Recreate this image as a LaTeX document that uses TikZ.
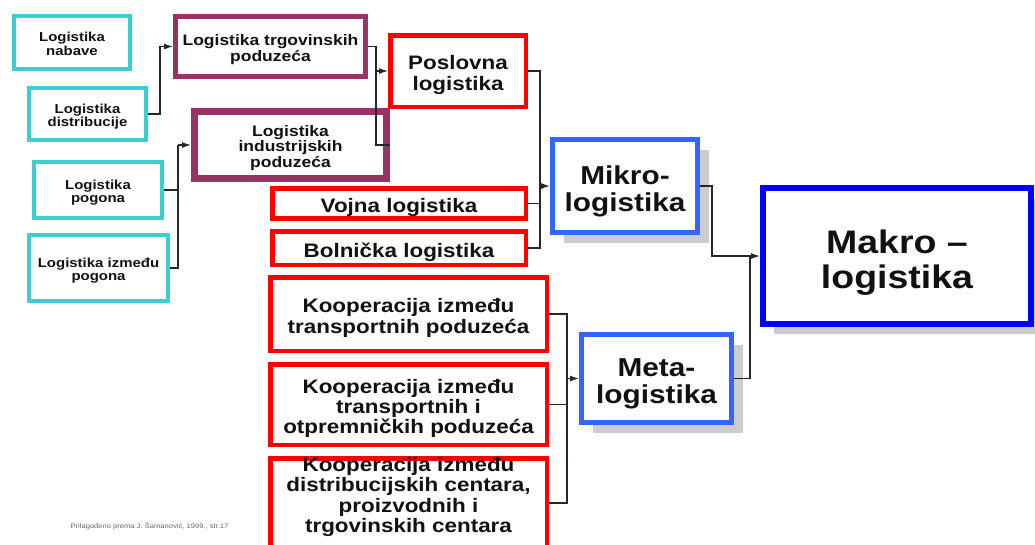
\documentclass[tikz,border=0pt]{standalone}
\usepackage{fontspec}
\setmainfont{Liberation Sans}
\usetikzlibrary{arrows.meta,shadows}
\definecolor{cy}{HTML}{3CCFCF}
\definecolor{pu}{HTML}{993366}
\definecolor{rd}{HTML}{FF0000}
\definecolor{bl}{HTML}{3366FF}
\definecolor{db}{HTML}{0000FF}
\definecolor{txt}{HTML}{111111}
\definecolor{shd}{HTML}{CCCCCC}
\newcommand\bt[3]{\scalebox{1.15}[1]{\fontsize{#1}{#2}\selectfont\bfseries\raisebox{0pt}[\dimexpr\height+0.5em\relax][\depth]{\begin{tabular}{@{}c@{}}#3\end{tabular}}}}
\begin{document}
\begin{tikzpicture}[x=1pt,y=-1pt,
  box/.style={draw, fill=white, rectangle, inner sep=0pt, text=txt},
  cyanbox/.style={box, draw=cy, line width=4pt},
  purbox/.style={box, draw=pu, line width=5pt},
  redbox/.style={box, draw=rd, line width=4.5pt},
  bluebox/.style={box, draw=bl, line width=5pt,
     drop shadow={shadow xshift=11pt, shadow yshift=-10pt, fill=shd, opacity=1}},
  conn/.style={draw=black!85, line width=1.2pt},
  arr/.style={conn, -{Latex[length=9pt,width=6pt]}}
]
\useasboundingbox (0,0) rectangle (1035,544);
\fill[white] (0,0) rectangle (1035,544);

% cyan
\node[cyanbox, minimum width=116pt, minimum height=53pt] (nab) at (72,42.5) {\bt{13}{12.7}{Logistika\\nabave}};
\node[cyanbox, minimum width=117pt, minimum height=52pt] (dis) at (87.5,114) {\bt{13}{12.7}{Logistika\\distribucije}};
\node[cyanbox, minimum width=128pt, minimum height=56pt] (pog) at (98,190) {\bt{13}{12.7}{Logistika\\pogona}};
\node[cyanbox, minimum width=139pt, minimum height=66pt] (izm) at (98.5,268) {\bt{13}{12.7}{Logistika između\\pogona}};

% purple
\node[purbox, minimum width=190pt, minimum height=60pt] (trg) at (270.5,46.5) {\bt{15.2}{15.7}{Logistika trgovinskih\\poduzeća}};
\node[purbox, line width=7pt, minimum width=192pt, minimum height=67pt] (ind) at (290.5,145) {\bt{15.2}{15.7}{Logistika\\industrijskih\\poduzeća}};

% red
\node[redbox, minimum width=135.5pt, minimum height=71.5pt] (pos) at (458,71) {\bt{19.5}{19.8}{Poslovna\\logistika}};
\node[redbox, minimum width=253.5pt, minimum height=26.5pt] (voj) at (399,203.5) {\bt{19.5}{19.8}{Vojna logistika}};
\node[redbox, minimum width=253.5pt, minimum height=33.5pt] (bol) at (399,248) {\bt{19.5}{19.8}{Bolnička logistika}};
\node[redbox, minimum width=276.5pt, minimum height=73.5pt] (k1) at (408.5,314) {\bt{19.5}{19.8}{Kooperacija između\\transportnih poduzeća}};
\node[redbox, minimum width=276.5pt, minimum height=80.5pt] (k2) at (408.5,404.5) {\bt{19.5}{19.8}{Kooperacija između\\transportnih i\\otpremničkih poduzeća}};
\node[redbox, minimum width=276.5pt, minimum height=89.5pt] (k3) at (408.5,503) {};
\node[text=txt, inner sep=0pt] (k3t) at (408.5,493) {\bt{19.5}{19.8}{Kooperacija između\\distribucijskih centara,\\proizvodnih i\\trgovinskih centara}};

% blue
\node[bluebox, minimum width=145pt, minimum height=93pt] (mik) at (625,186) {\bt{25.9}{26.7}{Mikro-\\logistika}};
\node[bluebox, minimum width=150pt, minimum height=88pt] (met) at (656.5,378.5) {\bt{25.9}{26.7}{Meta-\\logistika}};
\node[bluebox, draw=db, line width=6pt, minimum width=268pt, minimum height=136pt] (mak) at (897,256) {\bt{32.6}{35}{Makro –\\logistika}};

% note
\node[text=black!60, inner sep=0pt, font=\fontsize{6.6}{7.5}\selectfont] (note) at (149.5,526) {\scalebox{1.15}[1]{Prilagođeno prema J. Šamanović, 1999., str.17}};

% connectors
\draw[arr] (dis.east) -- ++(12,0) |- (trg.west);
\coordinate (j1) at (178,145);
\draw[conn] (pog.east) -| (j1);
\draw[conn] (izm.east) -| (j1);
\draw[arr] (j1) -- (ind.west);
\coordinate (j2) at (376,71);
\draw[conn] (trg.east) -| (j2);
\draw[conn] (ind.east) -| (j2);
\draw[arr] (j2) -- (pos.west);
\coordinate (j3) at (540,186);
\draw[conn] (pos.east) -| (j3);
\draw[conn] (voj.east) -| (j3);
\draw[conn] (bol.east) -| (j3);
\draw[arr] (j3) -- (mik.west);
\coordinate (j4) at (567,378.5);
\draw[conn] (k1.east) -| (j4);
\draw[conn] (k2.east) -| (j4);
\draw[conn] (k3.east) -| (j4);
\draw[arr] (j4) -- (met.west);
\draw[arr] (mik.east) -- ++(12,0) |- (mak.west);
\coordinate (j5) at (750,256);
\draw[conn] (met.east) -| (j5);
\end{tikzpicture}
\end{document}
